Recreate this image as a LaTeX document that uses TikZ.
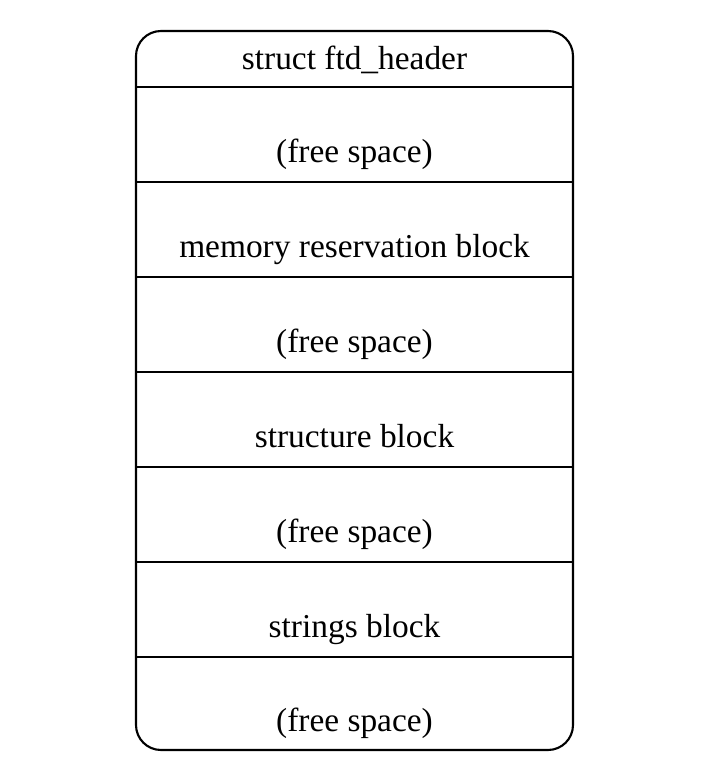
\documentclass[tikz,border=0pt]{standalone}
\usepackage{fontspec}
\setmainfont{Liberation Serif}
\begin{document}
\begin{tikzpicture}[x=0.03cm, y=-0.03cm]
\tikzset{champ/.style={anchor=base, font=\fontsize{28.5}{34}\selectfont}}
\useasboundingbox (0, 0) rectangle (720, 784);
\draw[line width=1.8pt, rounded corners=0.75cm] (136, 31) rectangle (573, 750);
\foreach \y in {87, 182, 277, 372, 467, 562, 657}
  \draw[line width=1.8pt] (136, \y) -- (573, \y);
\node[champ] (H) at (354.5, 69) {struct ftd\_header};
\node[champ] (F1) at (354.5, 162) {(free space)};
\node[champ] (M) at (354.5, 257) {memory reservation block};
\node[champ] (F2) at (354.5, 352) {(free space)};
\node[champ] (S) at (354.5, 447) {structure block};
\node[champ] (F3) at (354.5, 542) {(free space)};
\node[champ] (T) at (354.5, 637) {strings block};
\node[champ] (F4) at (354.5, 731) {(free space)};
\end{tikzpicture}
\end{document}
